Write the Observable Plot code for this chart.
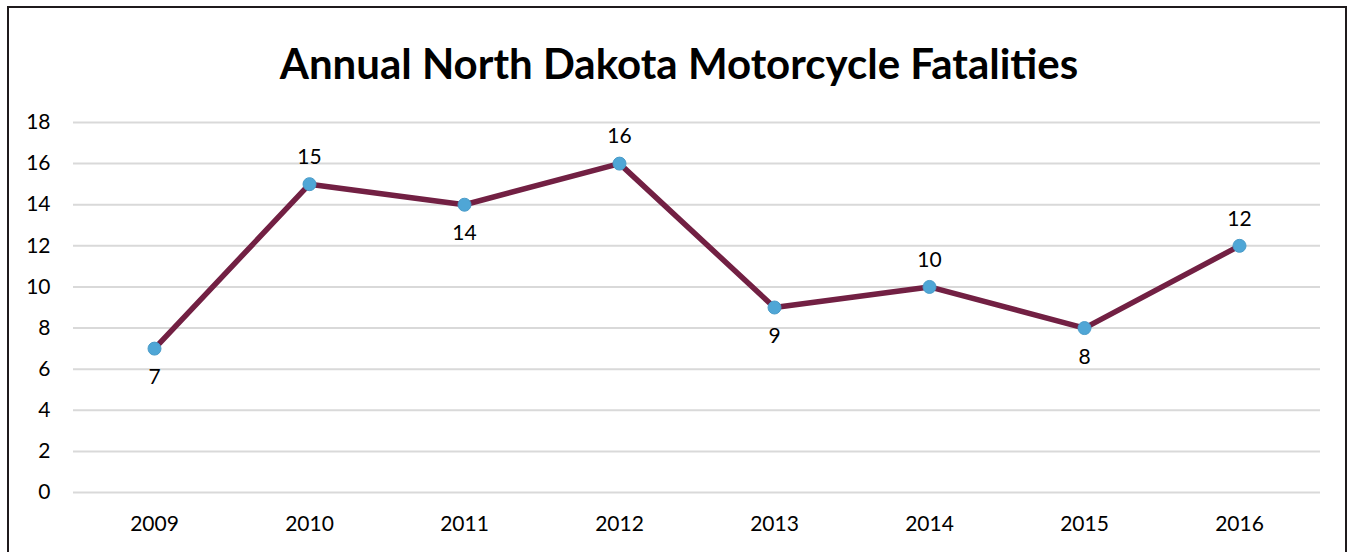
<!DOCTYPE html>
<html>
<head>
<meta charset="utf-8">
<script src="https://cdn.jsdelivr.net/npm/d3@7"></script>
<script src="https://cdn.jsdelivr.net/npm/@observablehq/plot@0.6"></script>
<style>
  html, body { margin: 0; padding: 0; background: #fff; overflow: hidden; }
  #frame { position: absolute; left: 7px; top: 6px; width: 1340px; height: 600px; border: 2px solid #1f1a1c; box-sizing: border-box; }
  #title { position: absolute; left: 0; top: 0; width: 1358px; height: 100px; text-align: center; font-family: Lato, "Open Sans", sans-serif; font-weight: bold; font-size: 42px; line-height: 126px; color: #000; }
  #chart { position: absolute; left: 0; top: 100px; }
</style>
</head>
<body>
<div id="frame"></div>
<div id="title">Annual North Dakota Motorcycle Fatalities</div>
<div id="chart"></div>
<script>
const years = ["2009","2010","2011","2012","2013","2014","2015","2016"];
const fatalities = [7, 15, 14, 16, 9, 10, 8, 12];
const labelAbove = [false, true, false, true, false, true, false, true];
const yTicks = [0, 2, 4, 6, 8, 10, 12, 14, 16, 18];

const data = years.map((y, i) => ({year: y, value: fatalities[i], above: labelAbove[i]}));

const chart = Plot.plot({
  width: 1354,
  height: 452,
  marginTop: 22,
  marginBottom: 60,
  marginLeft: 73,
  marginRight: 34,
  style: {fontFamily: "Lato, 'Open Sans', sans-serif", fontSize: "21px", color: "#000", background: "transparent"},
  x: {type: "point", domain: years, padding: 0.5, label: null, tickSize: 0, tickPadding: 24},
  y: {domain: [0, 18], ticks: yTicks, label: null, tickSize: 0, tickPadding: 23},
  marks: [
    Plot.ruleY(yTicks, {stroke: "#d9d9d9", strokeWidth: 2}),
    Plot.line(data, {x: "year", y: "value", stroke: "#722043", strokeWidth: 5.5, strokeLinejoin: "round"}),
    Plot.dot(data, {x: "year", y: "value", r: 6.5, fill: "#4fa6d6", stroke: "#4a9cc9", strokeWidth: 1}),
    Plot.text(data.filter(d => d.above), {x: "year", y: "value", text: d => String(d.value), dy: -27, fill: "#000", fontSize: 21, lineAnchor: "middle"}),
    Plot.text(data.filter(d => !d.above), {x: "year", y: "value", text: d => String(d.value), dy: 29, fill: "#000", fontSize: 21, lineAnchor: "middle"})
  ]
});
document.getElementById("chart").appendChild(chart);
</script>
</body>
</html>
